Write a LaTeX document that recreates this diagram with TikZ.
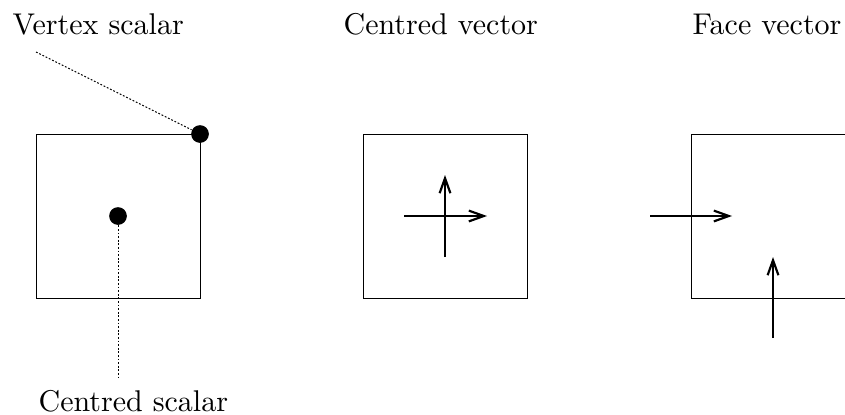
\documentclass[tikz,border=0pt]{standalone}
\usetikzlibrary{arrows.meta}
\begin{document}
\begin{tikzpicture}[x=0.3333pt,y=-0.3333pt,
  cell/.style={line width=0.27pt},
  vec/.style={line width=0.72pt,-{Straight Barb[length=5pt,width=3.6pt]}},
  dot/.style={circle,fill=black,inner sep=0pt,minimum size=5.9pt},
  leader/.style={line width=0.33pt,dash pattern=on 0.6pt off 0.6pt},
  lbl/.style={anchor=base west,inner sep=0pt,font=\normalsize}]
\useasboundingbox (0,0) rectangle (845,414);
\clip (0,0) rectangle (845,414);
% cells
\draw[cell] (36,134) rectangle (200,298);
\draw[cell] (363,134) rectangle (527,298);
\draw[cell] (691,134) rectangle (855,298);
% labels
\node[lbl] (tv) at (12,34) {Vertex scalar};
\node[lbl] (tcv) at (343,34) {Centred vector};
\node[lbl] (tf) at (692,34) {Face vector};
\node[lbl] (tc) at (38,411) {Centred scalar};
% scalars
\node[dot] (vs) at (200,134) {};
\node[dot] (cs) at (118,216) {};
\coordinate (vl) at (36,52);
\coordinate (cl) at (118,378);
\draw[leader] (vl) -- (vs);
\draw[leader] (cs) -- (cl);
% centred vector
\coordinate (cx0) at (404,216);
\coordinate (cx1) at (487,216);
\coordinate (cy0) at (445,257);
\coordinate (cy1) at (445,175);
\draw[vec] (cx0) -- (cx1);
\draw[vec] (cy0) -- (cy1);
% face vector
\coordinate (fx0) at (650,216);
\coordinate (fx1) at (732,216);
\coordinate (fy0) at (773,338);
\coordinate (fy1) at (773,257);
\draw[vec] (fx0) -- (fx1);
\draw[vec] (fy0) -- (fy1);
\end{tikzpicture}
\end{document}
